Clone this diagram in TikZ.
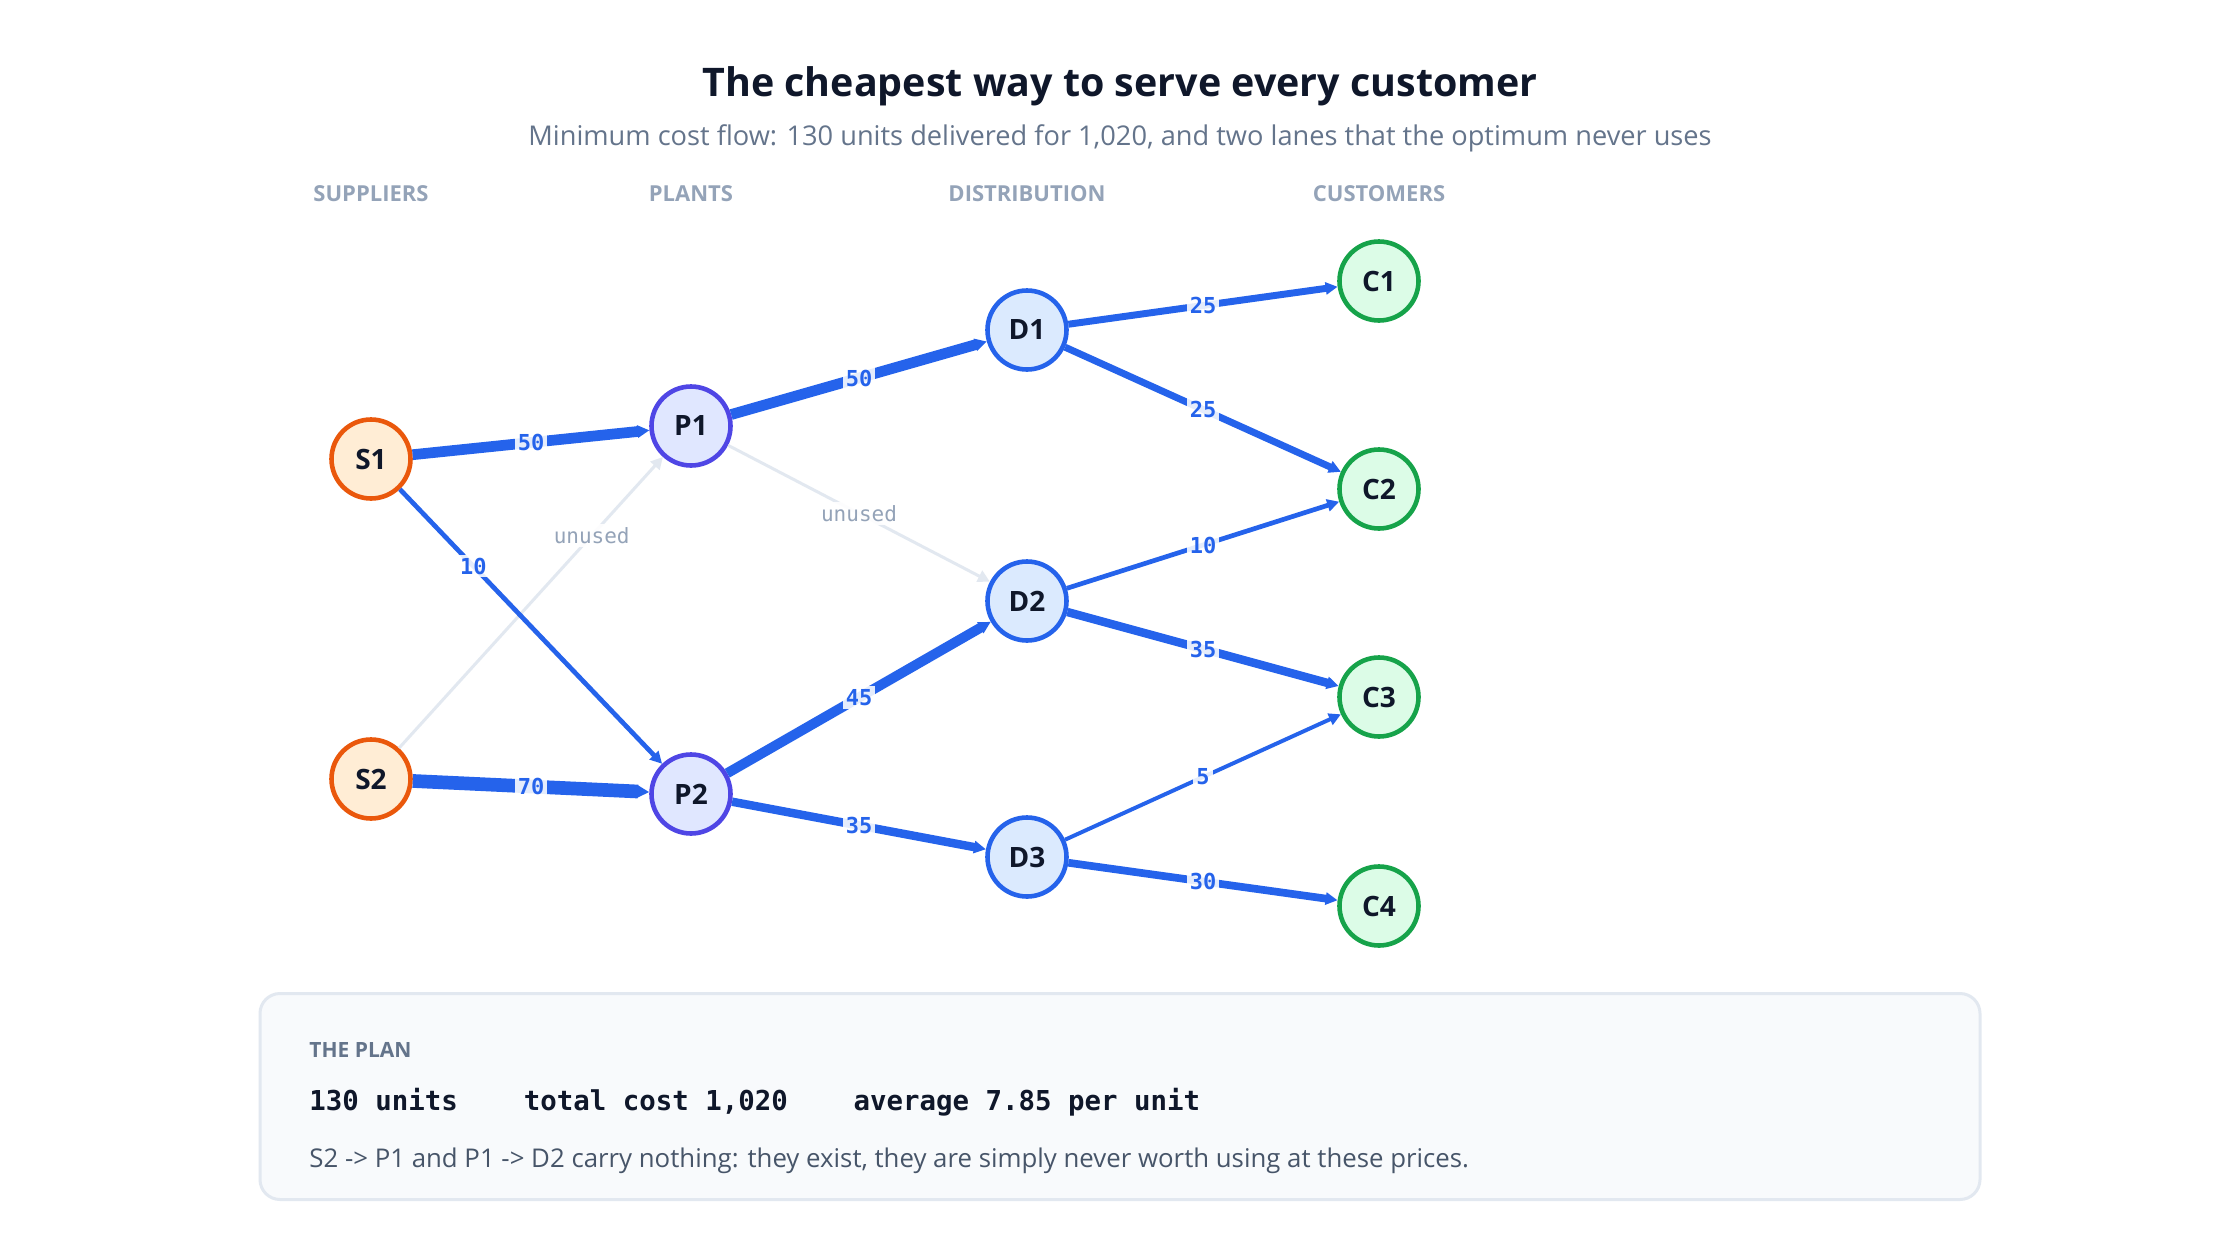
\documentclass[tikz,border=0pt]{standalone}
\usepackage{fontspec}
\setmainfont{Open Sans}
\setmonofont{DejaVu Sans Mono}
\usetikzlibrary{arrows.meta}
\definecolor{titlec}{HTML}{0F172A}
\definecolor{subc}{HTML}{64748B}
\definecolor{headc}{HTML}{94A3B8}
\definecolor{flowc}{HTML}{2563EB}
\definecolor{unusedc}{HTML}{E2E8F0}
\definecolor{sfill}{HTML}{FFEDD5}
\definecolor{sdraw}{HTML}{EA580C}
\definecolor{pfill}{HTML}{E0E7FF}
\definecolor{pdraw}{HTML}{4F46E5}
\definecolor{dfill}{HTML}{DBEAFE}
\definecolor{ddraw}{HTML}{2563EB}
\definecolor{cfill}{HTML}{DCFCE7}
\definecolor{cdraw}{HTML}{16A34A}
\definecolor{boxfill}{HTML}{F8FAFC}
\definecolor{notec}{HTML}{475569}
\tikzset{
  nodebase/.style={circle, minimum size=39.5pt, inner sep=0pt, line width=2.3pt, font=\bfseries\fontsize{14}{16}\selectfont, text=titlec},
  supnode/.style={nodebase, fill=sfill, draw=sdraw},
  plantnode/.style={nodebase, fill=pfill, draw=pdraw},
  distnode/.style={nodebase, fill=dfill, draw=ddraw},
  custnode/.style={nodebase, fill=cfill, draw=cdraw},
  header/.style={font=\bfseries\fontsize{11}{13}\selectfont, text=headc},
  flow/.style={draw=flowc, line width={1.6pt+0.075pt*#1}, -{Triangle[length=6pt,width=6pt]}},
  unused/.style={draw=unusedc, line width=1.5pt, -{Triangle[length=6pt,width=6pt]}},
  flbl/.style={font=\ttfamily\bfseries\fontsize{11}{13}\selectfont, text=flowc, fill=white, fill opacity=0.88, text opacity=1, inner sep=1.5pt},
  ulbl/.style={font=\ttfamily\fontsize{10.5}{12}\selectfont, text=headc, fill=white, fill opacity=0.9, text opacity=1, inner sep=1.5pt},
}
\begin{document}
\begin{tikzpicture}[x=0.5pt,y=-0.5pt]
\useasboundingbox[fill=white] (0,0) rectangle (2240,1248);
% titles
\node[font=\bfseries\fontsize{19.7}{24}\selectfont, text=titlec] (title) at (1120,86) {The cheapest way to serve every customer};
\node[font=\fontsize{13.6}{17}\selectfont, text=subc] (subtitle) at (1120,138) {Minimum cost flow: 130 units delivered for 1,020, and two lanes that the optimum never uses};
\node[header] (h1) at (371,194) {SUPPLIERS};
\node[header] (h2) at (691,194) {PLANTS};
\node[header] (h3) at (1027,194) {DISTRIBUTION};
\node[header] (h4) at (1379,194) {CUSTOMERS};
% nodes
\node[supnode] (S1) at (371,459) {S1};
\node[supnode] (S2) at (371,779) {S2};
\node[plantnode] (P1) at (691,426) {P1};
\node[plantnode] (P2) at (691,794) {P2};
\node[distnode] (D1) at (1027,330) {D1};
\node[distnode] (D2) at (1027,601) {D2};
\node[distnode] (D3) at (1027,857) {D3};
\node[custnode] (C1) at (1379,281) {C1};
\node[custnode] (C2) at (1379,489) {C2};
\node[custnode] (C3) at (1379,697) {C3};
\node[custnode] (C4) at (1379,906) {C4};
% unused edges
\draw[unused] (S2) -- node[ulbl, pos=0.73] {unused} (P1);
\draw[unused] (P1) -- node[ulbl, pos=0.5] {unused} (D2);
% flows
\draw[flow=50] (S1) -- node[flbl] {50} (P1);
\draw[flow=10] (S1) -- node[flbl, pos=0.28] {10} (P2);
\draw[flow=70] (S2) -- node[flbl] {70} (P2);
\draw[flow=50] (P1) -- node[flbl] {50} (D1);
\draw[flow=45] (P2) -- node[flbl] {45} (D2);
\draw[flow=35] (P2) -- node[flbl] {35} (D3);
\draw[flow=25] (D1) -- node[flbl] {25} (C1);
\draw[flow=25] (D1) -- node[flbl] {25} (C2);
\draw[flow=10] (D2) -- node[flbl] {10} (C2);
\draw[flow=35] (D2) -- node[flbl] {35} (C3);
\draw[flow=5] (D3) -- node[flbl] {5} (C3);
\draw[flow=30] (D3) -- node[flbl] {30} (C4);
% plan box
\node[draw=unusedc, fill=boxfill, line width=1.5pt, rounded corners=10pt, minimum width=860pt, minimum height=103pt, inner sep=0pt] (box) at (1120,1096.5) {};
\node[anchor=west, font=\bfseries\fontsize{10.5}{12}\selectfont, text=subc, inner sep=0pt] (plan) at (309,1050) {THE PLAN};
\node[anchor=west, font=\ttfamily\bfseries\fontsize{13.7}{16}\selectfont, text=titlec, inner sep=0pt] (stats) at (309,1102) {130 units\ \ \ \ total cost 1,020\ \ \ \ average 7.85 per unit};
\node[anchor=west, font=\fontsize{12.9}{15}\selectfont, text=notec, inner sep=0pt] (note) at (309,1161) {S2 -> P1 and P1 -> D2 carry nothing: they exist, they are simply never worth using at these prices.};
\end{tikzpicture}
\end{document}
